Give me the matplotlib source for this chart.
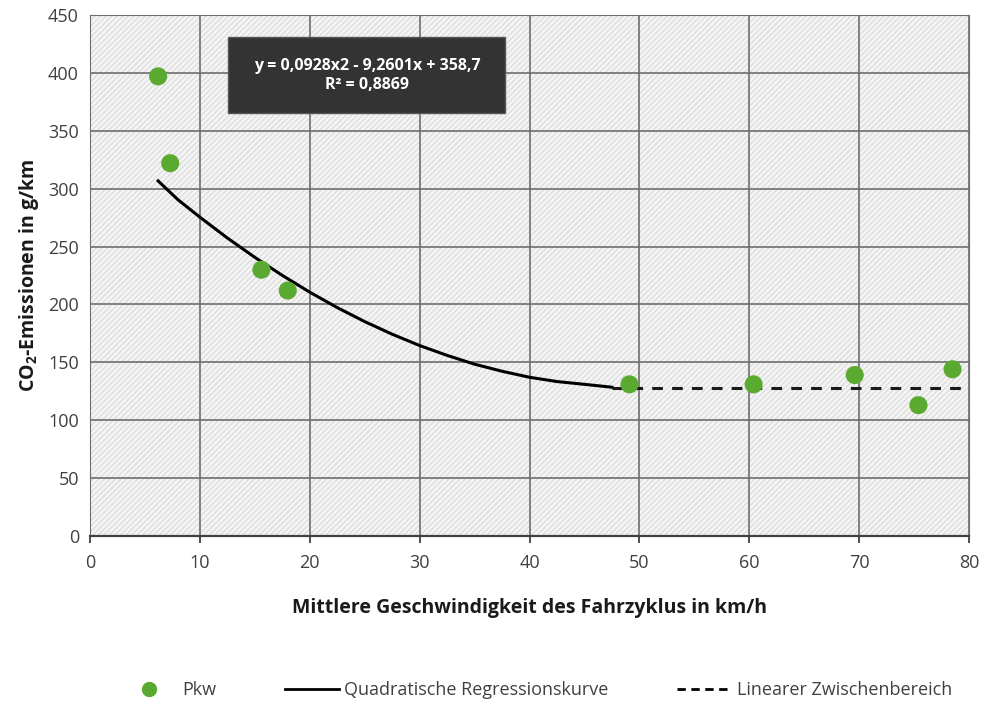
import matplotlib.pyplot as plt
from matplotlib.patches import Rectangle
from matplotlib.lines import Line2D

plt.rcParams['font.family'] = ['Open Sans', 'DejaVu Sans']
plt.rcParams['hatch.color'] = '#d6d6d6'
plt.rcParams['hatch.linewidth'] = 0.7

# measured points (Pkw)
speed = [6.2, 7.3, 15.6, 18.0, 49.1, 60.4, 69.6, 75.4, 78.5]
co2 = [397, 322, 230, 212, 131, 131, 139, 113, 144]

# regression curve
curve_x = [6.2, 8, 10, 12.5, 15, 17.5, 20, 22.5, 25, 27.5, 30, 32.5, 35,
           37.5, 40, 42.5, 45, 47.5]
curve_y = [306.7, 290.5, 275.4, 257.4, 240.7, 225.1, 210.6, 197.3, 185.2,
           174.3, 164.5, 156.0, 148.4, 142.3, 137.1, 133.4, 131.0, 128.5]

# linear section
lin_x = [47.5, 80]
lin_y = [128, 128]

eq_text = "y = 0,0928x2 - 9,2601x + 358,7\nR² = 0,8869"

fig = plt.figure(figsize=(9.84, 7.02), dpi=100)
ax = fig.add_axes([90 / 984, 166 / 702, 879 / 984, 521 / 702])

# hatched background
ax.set_facecolor('#f4f4f4')
ax.add_patch(Rectangle((0, 0), 1, 1, transform=ax.transAxes, facecolor='none',
                       hatch='//////', edgecolor='#d6d6d6', lw=0, zorder=0))

ax.grid(True, color='#6e6e6e', lw=1.2, zorder=1)
ax.set_axisbelow(True)

ax.plot(curve_x, curve_y, color='black', lw=2.2, zorder=3)
ax.plot(lin_x, lin_y, color='#1a1a1a', lw=2.2, ls=(0, (3.5, 3)), zorder=3)
ax.scatter(speed, co2, s=170, color='#5aaa32', zorder=4, edgecolors='none')

ax.set_xlim(0, 80)
ax.set_ylim(0, 450)
ax.set_xticks(range(0, 81, 10))
ax.set_yticks(range(0, 451, 50))
ax.tick_params(axis='x', colors='#404040', labelsize=13, length=5, width=1.3, pad=8)
ax.tick_params(axis='y', colors='#404040', labelsize=13, length=0, pad=8)
for s in ax.spines.values():
    s.set_color('#6e6e6e')
ax.spines['bottom'].set_color('#404040')
ax.spines['bottom'].set_linewidth(1.6)

ax.set_xlabel('Mittlere Geschwindigkeit des Fahrzyklus in km/h', fontsize=14,
              fontweight='bold', color='#1a1a1a', labelpad=19)
ax.set_ylabel(r'CO$\mathregular{_2}$-Emissionen in g/km', fontsize=14,
              fontweight='bold', color='#1a1a1a', labelpad=5)

# equation box
ax.add_patch(Rectangle((12.6, 365), 25.2, 66, facecolor='#333333',
                       edgecolor='#555555', lw=1, zorder=5))
ax.text(25.2, 398, eq_text, ha='center', va='center', color='white',
        fontsize=11.5, fontweight='bold', linespacing=1.25, zorder=6)

handles = [
    Line2D([], [], marker='o', ls='none', color='#5aaa32', markersize=10),
    Line2D([], [], color='black', lw=2),
    Line2D([], [], color='black', lw=2, ls=(0, (3, 2))),
]
labels = ['Pkw', 'Quadratische Regressionskurve', 'Linearer Zwischenbereich']
fig.legend(handles, labels, loc='center', bbox_to_anchor=(0.546, 0.017),
           ncol=3, frameon=False, fontsize=13, columnspacing=3.8,
           handlelength=3, handletextpad=0.3, labelcolor='#404040')

fig.savefig('out.png', dpi=100)
